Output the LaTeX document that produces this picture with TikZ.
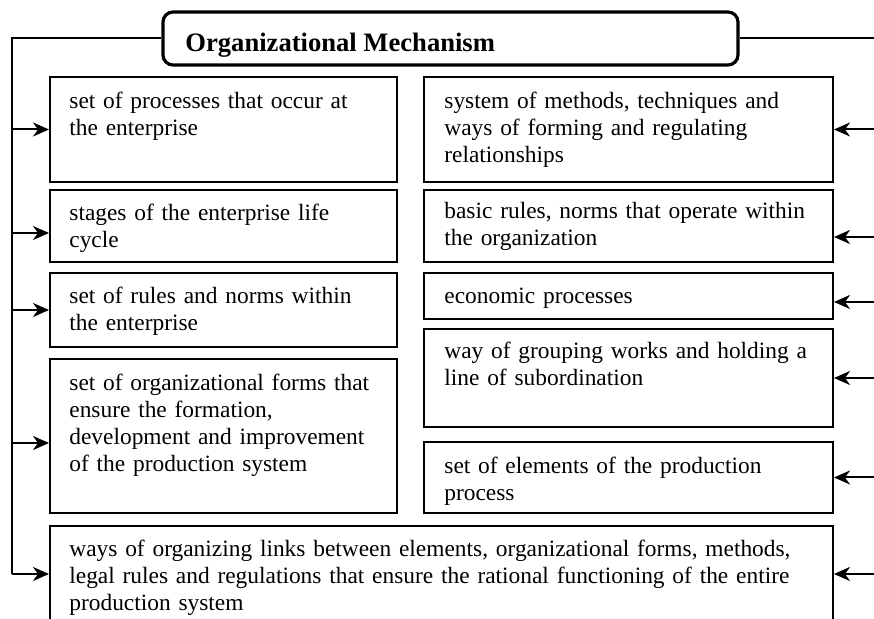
\documentclass[tikz,border=0pt]{standalone}
\usepackage{fontspec}
\setmainfont{Liberation Serif}
\usetikzlibrary{positioning,fit,calc,arrows.meta}

\tikzset{
  box/.style={draw, line width=1pt, inner sep=0pt},
  headbox/.style={draw, line width=1.6pt, rounded corners=5pt, inner sep=0pt},
  txt/.style={anchor=base west, inner sep=0pt, align=left, text width=200pt,
    font=\fontsize{11.7}{13.5}\selectfont},
  link/.style={line width=1pt},
  into/.style={link, -{Stealth[length=8pt,width=7pt,inset=2.5pt]}}
}

\begin{document}
\begin{tikzpicture}[x=0.5pt,y=-0.5pt]
\useasboundingbox (0,0) rectangle (874,619);

% heading
\node[headbox, fit={(163,12) (738,65)}] (head) {};
\node[anchor=base west, inner sep=0pt, font=\fontsize{13.3}{16}\selectfont\bfseries] (headtxt) at (185,52) {Organizational Mechanism};

% left column
\node[box, fit={(50,77) (397,182)}] (l1) {};
\node[box, fit={(50,190) (397,262)}] (l2) {};
\node[box, fit={(50,273) (397,347)}] (l3) {};
\node[box, fit={(50,359) (397,513)}] (l4) {};
\node[txt] (l1t) at ([xshift=10pt,yshift=-16.5pt]l1.north west) {set of processes that occur at\\the enterprise};
\node[txt] (l2t) at ([xshift=10pt,yshift=-16pt]l2.north west) {stages of the enterprise life\\cycle};
\node[txt] (l3t) at ([xshift=10pt,yshift=-16pt]l3.north west) {set of rules and norms within\\the enterprise};
\node[txt] (l4t) at ([xshift=10pt,yshift=-16.5pt]l4.north west) {set of organizational forms that\\ensure the formation,\\development and improvement\\of the production system};

% right column
\node[box, fit={(424,77) (833,182)}] (r1) {};
\node[box, fit={(424,190) (833,262)}] (r2) {};
\node[box, fit={(424,273) (833,319)}] (r3) {};
\node[box, fit={(424,329) (833,427)}] (r4) {};
\node[box, fit={(424,442) (833,513)}] (r5) {};
\node[txt] (r1t) at ([xshift=10.5pt,yshift=-16.5pt]r1.north west) {system of methods, techniques and\\ways of forming and regulating\\relationships};
\node[txt] (r2t) at ([xshift=10.5pt,yshift=-15pt]r2.north west) {basic rules, norms that operate within\\the organization};
\node[txt] (r3t) at ([xshift=10.5pt,yshift=-16pt]r3.north west) {economic processes};
\node[txt] (r4t) at ([xshift=10.5pt,yshift=-15.5pt]r4.north west) {way of grouping works and holding a\\line of subordination};
\node[txt] (r5t) at ([xshift=10.5pt,yshift=-16.5pt]r5.north west) {set of elements of the production\\process};

% bottom box
\node[box, fit={(50,526) (833,622)}] (bt) {};
\node[txt, text width=390pt] (btt) at ([xshift=10pt,yshift=-16pt]bt.north west) {ways of organizing links between elements, organizational forms, methods,\\legal rules and regulations that ensure the rational functioning of the entire\\production system};

% trunks
\coordinate (lt) at (12,0);
\coordinate (rt) at (876,0);
\draw[link] (head.west) -- (head.west -| lt) -- (lt |- bt.west);
\draw[link] (head.east) -- (head.east -| rt) -- (rt |- bt.west);

% arrows
\draw[into] (lt |- l1.west) -- (l1.west);
\draw[into] ($(lt |- l2.west)+(0,7)$) -- ($(l2.west)+(0,7)$);
\draw[into] (lt |- l3.west) -- (l3.west);
\draw[into] ($(lt |- l4.west)+(0,7)$) -- ($(l4.west)+(0,7)$);
\draw[into] (lt |- bt.west) -- (bt.west);
\draw[into] (rt |- r1.east) -- (r1.east);
\draw[into] ($(rt |- r2.east)+(0,11)$) -- ($(r2.east)+(0,11)$);
\draw[into] ($(rt |- r3.east)+(0,6)$) -- ($(r3.east)+(0,6)$);
\draw[into] (rt |- r4.east) -- (r4.east);
\draw[into] (rt |- r5.east) -- (r5.east);
\draw[into] (rt |- bt.east) -- (bt.east);
\end{tikzpicture}
\end{document}
